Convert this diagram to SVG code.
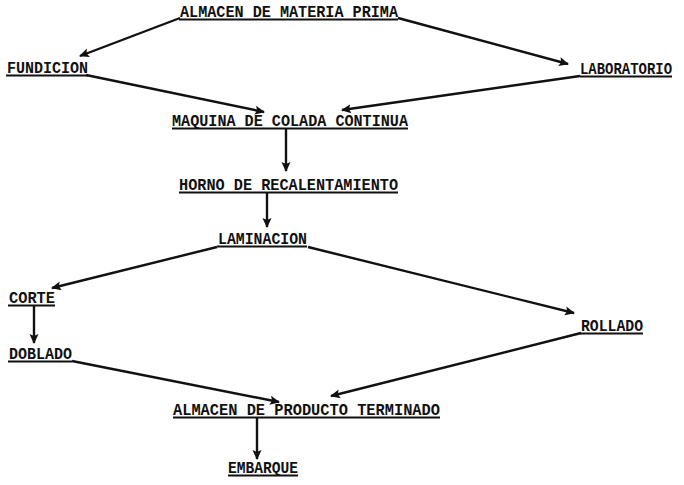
<svg xmlns="http://www.w3.org/2000/svg" width="684" height="485" viewBox="0 0 684 485">
<style>
.t{font-family:"Liberation Mono","Courier New",monospace;font-weight:bold;font-size:16px;fill:#111;}
.u{stroke:#111;stroke-width:1.8;}
.c{stroke:#111;stroke-width:2.4;fill:none;marker-end:url(#ah);}
</style>
<defs>
<marker id="ah" markerUnits="userSpaceOnUse" markerWidth="10" markerHeight="10" refX="9" refY="5" orient="auto">
<path d="M0,0.5 L10,5 L0,9.5 L2,5 z" fill="#111"/>
</marker>
</defs>
<rect width="684" height="485" fill="#fff"/>
<g id="connectors">
<path class="c" d="M180,18 L80,56"/>
<path class="c" d="M398,18 L568,64"/>
<path class="c" d="M86,75 L264,112"/>
<path class="c" d="M580,76 L342,110"/>
<path class="c" d="M286,129 L286,171"/>
<path class="c" d="M267,193 L267,227"/>
<path class="c" d="M217,247 L52,288"/>
<path class="c" d="M308,247 L574,313"/>
<path class="c" d="M34,305 L34,343"/>
<path class="c" d="M72,361 L279,402"/>
<path class="c" d="M581,333 L331,396"/>
<path class="c" d="M257,418 L257,459"/>
</g>
<g id="n1"><text class="t" x="180" y="17" textLength="218" lengthAdjust="spacingAndGlyphs">ALMACEN DE MATERIA PRIMA</text><line class="u" x1="179" y1="19.5" x2="398" y2="19.5"/></g>
<g id="n2"><text class="t" x="7" y="73" textLength="81" lengthAdjust="spacingAndGlyphs">FUNDICION</text><line class="u" x1="6" y1="75.5" x2="88" y2="75.5"/></g>
<g id="n3"><text class="t" x="580" y="74" textLength="92" lengthAdjust="spacingAndGlyphs">LABORATORIO</text><line class="u" x1="580" y1="76.5" x2="672" y2="76.5"/></g>
<g id="n4"><text class="t" x="172" y="126" textLength="236" lengthAdjust="spacingAndGlyphs">MAQUINA DE COLADA CONTINUA</text><line class="u" x1="172" y1="128.5" x2="408" y2="128.5"/></g>
<g id="n5"><text class="t" x="179" y="190" textLength="219" lengthAdjust="spacingAndGlyphs">HORNO DE RECALENTAMIENTO</text><line class="u" x1="179" y1="192.5" x2="398" y2="192.5"/></g>
<g id="n6"><text class="t" x="218" y="244" textLength="89" lengthAdjust="spacingAndGlyphs">LAMINACION</text><line class="u" x1="217" y1="246.5" x2="307" y2="246.5"/></g>
<g id="n7"><text class="t" x="9" y="303" textLength="46" lengthAdjust="spacingAndGlyphs">CORTE</text><line class="u" x1="8" y1="305.5" x2="55" y2="305.5"/></g>
<g id="n8"><text class="t" x="9" y="359" textLength="63" lengthAdjust="spacingAndGlyphs">DOBLADO</text><line class="u" x1="8" y1="361.5" x2="72" y2="361.5"/></g>
<g id="n9"><text class="t" x="581" y="331" textLength="62" lengthAdjust="spacingAndGlyphs">ROLLADO</text><line class="u" x1="580" y1="333.5" x2="643" y2="333.5"/></g>
<g id="n10"><text class="t" x="173" y="415" textLength="267" lengthAdjust="spacingAndGlyphs">ALMACEN DE PRODUCTO TERMINADO</text><line class="u" x1="173" y1="417.5" x2="440" y2="417.5"/></g>
<g id="n11"><text class="t" x="228" y="473" textLength="70" lengthAdjust="spacingAndGlyphs">EMBARQUE</text><line class="u" x1="228" y1="475.5" x2="298" y2="475.5"/></g>
</svg>
